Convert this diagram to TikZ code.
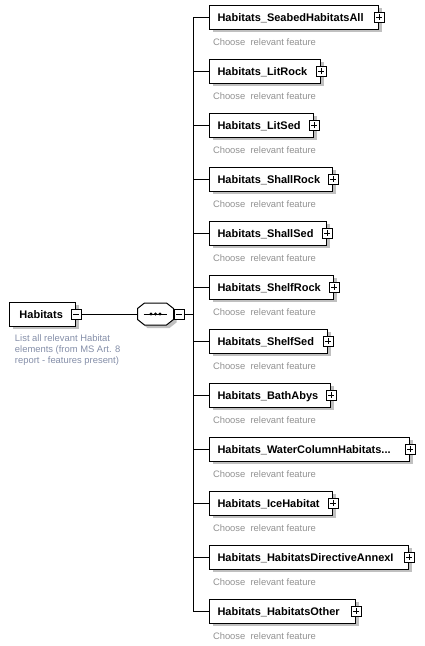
\documentclass[tikz,border=0pt]{standalone}
\usepackage{fontspec}
\setmainfont{Liberation Sans}
\usetikzlibrary{shadows}
\definecolor{descgray}{RGB}{145,145,145}
\definecolor{anngray}{RGB}{132,142,168}
\definecolor{shadowgray}{RGB}{192,192,192}
\begin{document}
\begin{tikzpicture}[x=1pt,y=-1pt,line width=1pt,
  elem/.style={draw=black, fill=white, anchor=west, minimum height=24pt,
    inner xsep=8pt, inner ysep=0pt, text height=8pt, text depth=0pt, align=left,
    font=\fontsize{11}{13}\selectfont\bfseries,
    drop shadow={shadow xshift=3pt, shadow yshift=-3pt, fill=shadowgray, opacity=1}},
  boxshadow/.style={drop shadow={shadow xshift=1pt, shadow yshift=-1pt, fill=black, opacity=1}},
  plusbox/.style={draw=black, fill=white, minimum size=10pt, inner sep=0pt, boxshadow,
    path picture={
      \draw[line width=1pt] ([xshift=2pt]path picture bounding box.west) -- ([xshift=-2pt]path picture bounding box.east);
      \draw[line width=1pt] ([yshift=-2pt]path picture bounding box.north) -- ([yshift=2pt]path picture bounding box.south);}},
  minusbox/.style={draw=black, fill=white, minimum size=10pt, inner sep=0pt, boxshadow,
    path picture={
      \draw[line width=1pt] ([xshift=2pt]path picture bounding box.west) -- ([xshift=-2pt]path picture bounding box.east);}},
  desc/.style={anchor=west, inner sep=0pt, text=descgray, font=\fontsize{9.4}{11}\selectfont},
  ann/.style={anchor=north west, inner sep=0pt, align=left, text=anngray, font=\fontsize{9.4}{11}\selectfont},
  conn/.style={draw=black, line width=1pt}
]
\useasboundingbox (0,0) rectangle (424,646);

% root element
\node[elem, text width=46pt, inner xsep=10pt] (hab) at (9,314) {Habitats};
\node[minusbox] (habm) at (hab.east) {};
\node[ann] (hd) at (14.5,334) {List all relevant Habitat\\elements (from MS Art. 8\\report - features present)};

% sequence compositor
\node[minimum width=35pt, minimum height=21pt, inner sep=0pt] (seq) at (155.5,314) {};
\path[draw=black, fill=white, drop shadow={shadow xshift=3pt, shadow yshift=-3pt, fill=shadowgray, opacity=1}]
  ([xshift=7pt]seq.north west) -- ([xshift=-7pt]seq.north east)
  -- ([yshift=-5.5pt]seq.north east) -- ([yshift=5.5pt]seq.south east)
  -- ([xshift=-7pt]seq.south east) -- ([xshift=7pt]seq.south west)
  -- ([yshift=5.5pt]seq.south west) -- ([yshift=-5.5pt]seq.north west) -- cycle;
\draw ([xshift=-12pt]seq.center) -- ([xshift=11pt]seq.center);
\fill ([xshift=-4.5pt]seq.center) circle (1.7pt);
\fill (seq.center) circle (1.7pt);
\fill ([xshift=4.5pt]seq.center) circle (1.7pt);
\node[minusbox] (seqm) at (179,314) {};

\draw[conn] (habm.east) -- (seq.west);

% bus
\coordinate (bustop) at (193,17);
\coordinate (busbot) at (193,611);
\draw[conn] (bustop) -- (busbot);
\draw[conn] (seqm.east) -- (seqm.east -| bustop);

\foreach \i/\tw/\txt in {
  1/153/Habitats\_SeabedHabitatsAll,
  2/95/Habitats\_LitRock,
  3/88/Habitats\_LitSed,
  4/107/Habitats\_ShallRock,
  5/101/Habitats\_ShallSed,
  6/108/Habitats\_ShelfRock,
  7/102/Habitats\_ShelfSed,
  8/105/Habitats\_BathAbys,
  9/184/Habitats\_WaterColumnHabitats.{}.{}.,
  10/107/Habitats\_IceHabitat,
  11/183/Habitats\_HabitatsDirectiveAnnexI,
  12/130/Habitats\_HabitatsOther}{
  \pgfmathsetmacro{\yy}{17+54*(\i-1)}
  \node[elem, text width=\tw pt] (c\i) at (209,\yy) {\txt};
  \node[plusbox] (p\i) at (c\i.east) {};
  \node[desc] (d\i) at (212.5,\yy+25) {Choose~~relevant feature};
  \draw[conn] (c\i.west -| bustop) -- (c\i.west);
}
\end{tikzpicture}
\end{document}
